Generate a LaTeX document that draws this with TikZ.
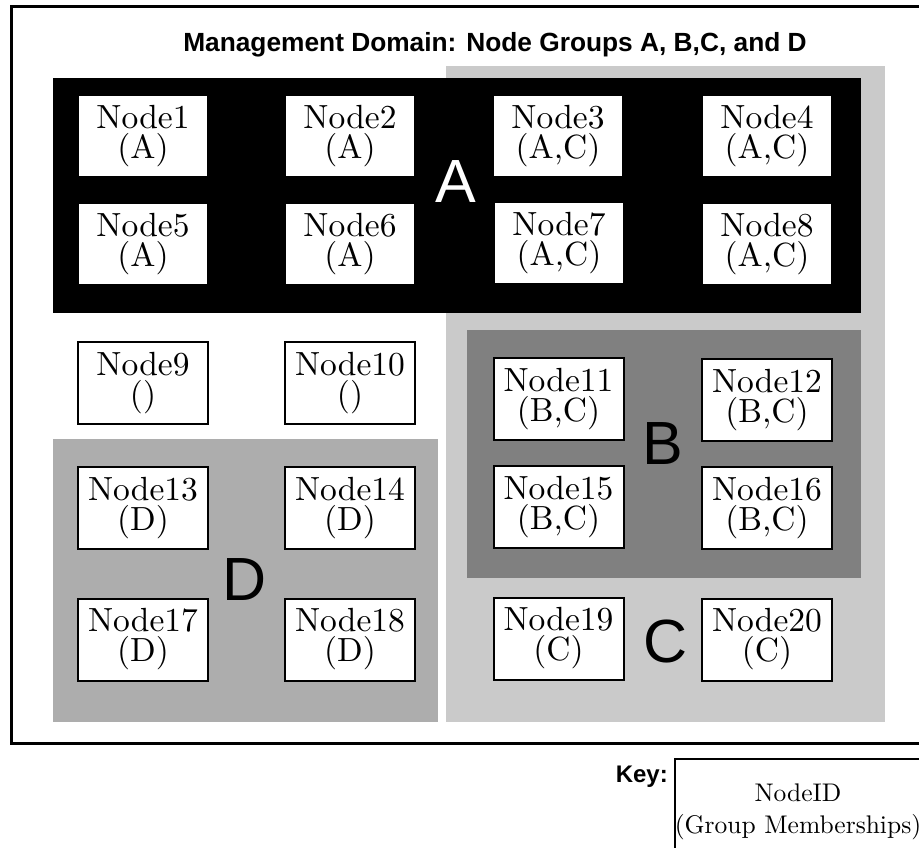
\documentclass[tikz,border=0pt]{standalone}
\usepackage{fontspec}
\setmainfont{lmroman10-regular.otf}
\newfontfamily\helv{Liberation Sans}
\usepackage{tikz}

\definecolor{groupC}{RGB}{202,202,202}
\definecolor{groupB}{RGB}{128,128,128}
\definecolor{groupD}{RGB}{173,173,173}

\begin{document}
\begin{tikzpicture}[x=1pt, y=-1pt,
  member/.style={draw, fill=white, line width=2pt, minimum width=130pt,
    minimum height=82pt, inner sep=0pt, align=center,
    font=\fontsize{33.5}{30}\selectfont},
  grouplab/.style={anchor=base, inner sep=0pt, font=\helv\fontsize{61}{61}\selectfont}]
  \useasboundingbox (0,0) rectangle (919,848);

  % domain frame (right side runs off the page)
  \begin{scope}
    \clip (0,0) rectangle (919,848);
    \draw[line width=3pt] (11.5,6.5) rectangle (940,743);
    \node[draw, line width=2pt, anchor=north, minimum width=246pt,
      align=center, inner sep=0pt,
      font=\fontsize{25.5}{32}\selectfont] (keybox) at (798,758)
      {\rule{0pt}{42pt}NodeID\\(Group Memberships)\rule[-48pt]{0pt}{0pt}};
  \end{scope}
  \node[anchor=base, inner sep=0pt, font=\helv\bfseries\fontsize{26.3}{26}\selectfont] (title) at (495,52)
    {Management Domain: Node Groups A, B,C, and D};

  % groups
  \fill[groupC] (446,66) rectangle (885,722);
  \fill[black] (53,78) rectangle (861,313);
  \fill[groupB] (467,330) rectangle (861,578);
  \fill[groupD] (53,439) rectangle (438,722);

  \node[grouplab, text=white] (labA) at (456,203) {A};
  \node[grouplab] (labB) at (663,464) {B};
  \node[grouplab] (labC) at (666,662) {C};
  \node[grouplab] (labD) at (245,600) {D};

  % nodes
  \node[member] (n1) at (143,136) {Node1\\(A)};
  \node[member] (n2) at (350,136) {Node2\\(A)};
  \node[member] (n3) at (558,136) {Node3\\(A,C)};
  \node[member] (n4) at (767,136) {Node4\\(A,C)};

  \node[member] (n5) at (143,244) {Node5\\(A)};
  \node[member] (n6) at (350,244) {Node6\\(A)};
  \node[member] (n7) at (559,243) {Node7\\(A,C)};
  \node[member] (n8) at (767,244) {Node8\\(A,C)};

  \node[member] (n9) at (143,383) {Node9\\()};
  \node[member] (n10) at (350,383) {Node10\\()};
  \node[member] (n11) at (558.5,399) {Node11\\(B,C)};
  \node[member] (n12) at (767,400) {Node12\\(B,C)};

  \node[member] (n13) at (143,508) {Node13\\(D)};
  \node[member] (n14) at (350,508) {Node14\\(D)};
  \node[member] (n15) at (558.5,507) {Node15\\(B,C)};
  \node[member] (n16) at (767,508) {Node16\\(B,C)};

  \node[member] (n17) at (143,639.5) {Node17\\(D)};
  \node[member] (n18) at (350,639.5) {Node18\\(D)};
  \node[member] (n19) at (558.5,638.5) {Node19\\(C)};
  \node[member] (n20) at (767,639.5) {Node20\\(C)};

  % key
  \node[anchor=base east, inner sep=0pt, font=\helv\bfseries\fontsize{24}{24}\selectfont] (key) at (668,782) {Key:};
\end{tikzpicture}
\end{document}
